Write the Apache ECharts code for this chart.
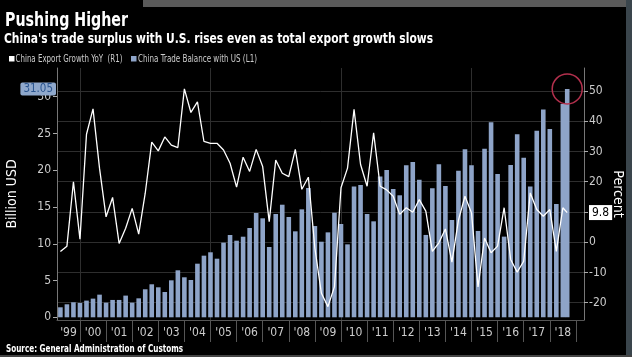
<!DOCTYPE html>
<html><head><meta charset="utf-8">
<script src="https://cdn.jsdelivr.net/npm/echarts@6/dist/echarts.min.js"></script>
<style>html,body{margin:0;padding:0;background:#000;}#c{width:632px;height:357px;}</style>
</head><body><div id="c"></div>
<script>
// Quarter-end periods (last one is the latest month)
const periods = [
 "1999-03","1999-06","1999-09","1999-12","2000-03","2000-06","2000-09","2000-12",
 "2001-03","2001-06","2001-09","2001-12","2002-03","2002-06","2002-09","2002-12",
 "2003-03","2003-06","2003-09","2003-12","2004-03","2004-06","2004-09","2004-12",
 "2005-03","2005-06","2005-09","2005-12","2006-03","2006-06","2006-09","2006-12",
 "2007-03","2007-06","2007-09","2007-12","2008-03","2008-06","2008-09","2008-12",
 "2009-03","2009-06","2009-09","2009-12","2010-03","2010-06","2010-09","2010-12",
 "2011-03","2011-06","2011-09","2011-12","2012-03","2012-06","2012-09","2012-12",
 "2013-03","2013-06","2013-09","2013-12","2014-03","2014-06","2014-09","2014-12",
 "2015-03","2015-06","2015-09","2015-12","2016-03","2016-06","2016-09","2016-12",
 "2017-03","2017-06","2017-09","2017-12","2018-03","2018-06","2018-08"
];
// China Trade Balance with US, billion USD (left axis)
const tradeBalance = [
 1.36,1.77,2.04,1.95,2.27,2.54,3.08,1.99,
 2.36,2.36,2.95,1.99,2.58,3.81,4.49,4.08,
 3.44,5.03,6.39,5.44,5.07,7.29,8.38,8.84,
 7.97,10.15,11.19,10.42,10.96,12.14,14.18,13.46,
 9.56,14.05,15.31,13.64,11.69,14.68,17.58,12.41,
 10.28,11.55,14.22,12.69,9.92,17.77,18.0,14.05,
 13.05,19.13,20.03,17.45,16.59,20.66,21.12,18.71,
 11.2,17.54,20.8,17.86,13.23,19.94,22.84,20.66,
 11.74,22.93,26.51,19.49,10.97,20.71,24.88,21.7,
 17.77,25.38,28.24,25.61,15.41,29.0,31.05
];
// China Export Growth YoY, percent (right axis)
const exportGrowth = [
 -3.1,-1.3,20.0,1.0,35.7,44.1,24.4,8.4,
 14.8,-0.4,4.6,11.2,2.7,16.2,33.1,30.2,
 34.8,32.1,31.3,50.7,42.9,46.4,33.3,32.7,
 32.7,30.5,26.1,18.2,28.1,23.4,30.7,25.0,
 6.8,27.2,22.8,21.7,30.7,17.5,21.5,-2.0,
 -16.9,-21.3,-14.7,18.0,24.5,43.9,25.7,18.5,
 36.2,18.5,17.3,15.2,9.2,11.4,9.9,14.1,
 10.3,-3.0,-0.2,4.4,-6.6,7.3,15.2,9.7,
 -14.8,1.4,-3.5,-1.3,11.4,-5.7,-9.9,-6.3,
 16.3,10.8,8.6,10.8,-3.0,11.4,9.8
];
const yearLabels = ["'99","'00","'01","'02","'03","'04","'05","'06","'07","'08",
 "'09","'10","'11","'12","'13","'14","'15","'16","'17","'18"];
const yearBoundaries = [2000,2001,2002,2003,2004,2005,2006,2007,2008,2009,2010,2011,2012,2013,2014,2015,2016,2017,2018,2019];
const gridYears = [2000,2005,2010,2015];
const leftTicks = [0,5,10,15,20,25,30];
const rightTicks = [-20,-10,0,10,20,30,40,50];
const lastBalance = 31.05;
const lastGrowth = 9.8;
const seriesNames = ['China Export Growth YoY  (R1)','China Trade Balance with US (L1)'];
const titleText = 'Pushing Higher';
const subtitleText = "China's trade surplus with U.S. rises even as total export growth slows";
const sourceText = 'Source: General Administration of Customs';

const FONT = "'Liberation Sans Narrow','DejaVu Sans Condensed',Lato,sans-serif";
const toX = p => +p.slice(0,4) + (+p.slice(5,7))/12;
const X_MIN = 1999.12, X_MAX = 2019.31;
const L_MIN = -0.367, L_MAX = 33.9, R_MIN = -25.72, R_MAX = 57.6;
const labelPos = yearLabels.map((s,i)=> i===0 ? 1999.56 : 1999.5 + i);
const BAR_COLOR = '#8ea4c8';

// Fit a text to a target width by horizontal scaling (narrow Bloomberg-style type)
const mctx = document.createElement('canvas').getContext('2d');
function fitText(text, x, y, size, weight, color, width){
  mctx.font = weight + ' ' + size + 'px ' + FONT;
  const w = mctx.measureText(text).width || width;
  return {type:'text', x:x, y:y, scaleX: width / w, originX:0, silent:true, z:10,
    style:{text:text, fill:color, fontSize:size, fontWeight:weight, fontFamily:FONT, verticalAlign:'middle', align:'left'}};
}

const chart = echarts.init(document.getElementById('c'), null, {renderer:'canvas'});
chart.setOption({
  backgroundColor:'#000',
  animation:false,
  textStyle:{fontFamily:FONT},
  grid:{left:57, right:48, top:68, bottom:37, containLabel:false, outerBoundsMode:'none'},
  xAxis:[
    {type:'value', min:X_MIN, max:X_MAX, position:'bottom',
     axisLine:{show:true, onZero:false, lineStyle:{color:'#555'}},
     axisTick:{show:true, customValues:yearBoundaries, length:22, lineStyle:{color:'#555'}},
     axisLabel:{customValues:labelPos, color:'#ccc', fontSize:12, margin:7, fontFamily:FONT,
       formatter:v=>yearLabels[Math.floor(v)-1999]},
     splitLine:{show:false}},
    {type:'value', min:X_MIN, max:X_MAX, position:'top',
     axisLine:{show:false}, axisTick:{show:false, customValues:gridYears},
     axisLabel:{show:false}, splitLine:{show:true, lineStyle:{color:'#2e2e2e', width:1}}}
  ],
  yAxis:[
    {type:'value', position:'left', min:L_MIN, max:L_MAX,
     name:'Billion USD', nameLocation:'middle', nameGap:38, nameRotate:90, nameMoveOverlap:false,
     nameTextStyle:{color:'#fff', fontSize:14, fontFamily:FONT},
     axisLine:{show:true, lineStyle:{color:'#777'}},
     axisTick:{show:true, customValues:leftTicks, length:4, lineStyle:{color:'#aaa'}},
     axisLabel:{customValues:leftTicks, color:'#ccc', fontSize:12, margin:6, fontFamily:FONT,
       showMaxLabel:true, showMinLabel:true, hideOverlap:false},
     splitLine:{show:false}},
    {type:'value', position:'right', min:R_MIN, max:R_MAX,
     name:'Percent', nameLocation:'middle', nameGap:27, nameRotate:-90, nameMoveOverlap:false,
     nameTextStyle:{color:'#fff', fontSize:14, fontFamily:FONT},
     axisLine:{show:true, lineStyle:{color:'#777'}},
     axisTick:{show:true, customValues:rightTicks, length:4, lineStyle:{color:'#aaa'}},
     axisLabel:{customValues:rightTicks.concat([lastGrowth]), color:'#ccc', fontSize:12, margin:5, fontFamily:FONT,
       showMaxLabel:true, showMinLabel:true, hideOverlap:false,
       formatter:v=> Math.abs(v-lastGrowth)<1e-6 ? '{hl|'+lastGrowth.toFixed(1)+'}' : String(v),
       rich:{hl:{backgroundColor:'#fff', color:'#000', fontSize:12, padding:[2,3,1,3], fontFamily:FONT}}},
     splitLine:{show:true, lineStyle:{color:'#2e2e2e', width:1}}},
    // overlay axis carrying only the latest-value tag of the bars
    {type:'value', position:'left', min:L_MIN, max:L_MAX,
     axisLine:{show:false}, axisTick:{show:false, customValues:[lastBalance]}, splitLine:{show:false},
     axisLabel:{customValues:[lastBalance], showMaxLabel:true, showMinLabel:true, margin:1, fontFamily:FONT,
       formatter:v=>'{hl|'+lastBalance.toFixed(2)+'}',
       rich:{hl:{backgroundColor:'#8fa8cc', color:'#2b558f', fontSize:11.5, padding:[1,3,0,3], borderRadius:2, fontFamily:FONT}}}}
  ],
  series:[
    {name:seriesNames[1], type:'bar', xAxisIndex:0, yAxisIndex:0,
     barWidth:4.6, itemStyle:{color:BAR_COLOR},
     data:periods.map((p,i)=>[toX(p), tradeBalance[i]]),
     markPoint:{silent:true, symbol:'circle', symbolSize:30,
       itemStyle:{color:'rgba(0,0,0,0)', borderColor:'#b3304d', borderWidth:1.5},
       label:{show:false},
       data:[{coord:[toX(periods[periods.length-1]), lastBalance]}]}},
    {name:seriesNames[0], type:'line', xAxisIndex:0, yAxisIndex:1,
     symbol:'none', z:5, lineStyle:{color:'#fff', width:1.3}, itemStyle:{color:'#fff'},
     data:periods.map((p,i)=>[toX(p), exportGrowth[i]])}
  ],
  graphic:[
    {type:'rect', shape:{x:143, y:0, width:483, height:7}, style:{fill:'#5a5a5a'}, silent:true},
    {type:'rect', shape:{x:626, y:0, width:6, height:357}, style:{fill:'#3a454c'}, silent:true},
    {type:'rect', shape:{x:0, y:355, width:632, height:2}, style:{fill:'#444'}, silent:true},
    fitText(titleText, 5, 21, 19, 'bold', '#fff', 123),
    fitText(subtitleText, 4, 39.5, 13.5, 'bold', '#fff', 429),
    fitText(sourceText, 6, 349.5, 10, 'bold', '#fff', 177),
    {type:'rect', shape:{x:9, y:56, width:5.5, height:5.5}, style:{fill:'#fff'}, silent:true},
    fitText(seriesNames[0], 15.5, 59, 10, 'normal', '#ccc', 107),
    {type:'rect', shape:{x:131, y:56, width:5.5, height:5.5}, style:{fill:BAR_COLOR}, silent:true},
    fitText(seriesNames[1], 138, 59, 10, 'normal', '#ccc', 119)
  ]
});
</script>
</body></html>
